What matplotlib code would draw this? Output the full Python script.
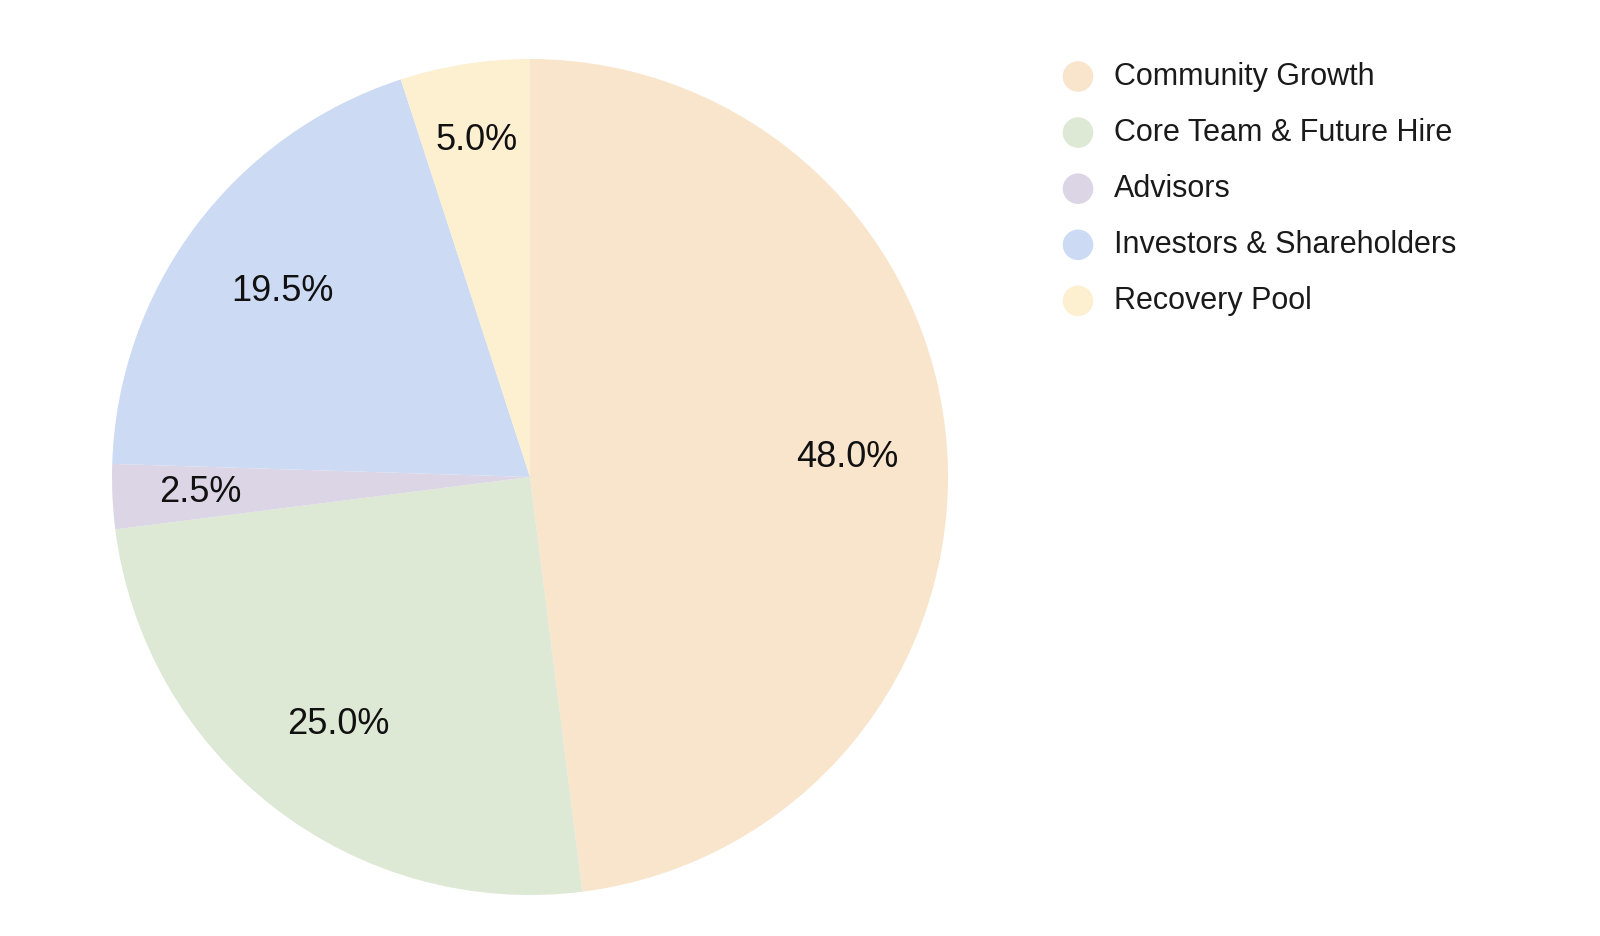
import numpy as np
import matplotlib.pyplot as plt

plt.rcParams['font.family'] = ['Liberation Sans', 'DejaVu Sans']

# 数据
labels = ['Community Growth', 'Core Team & Future Hire', 'Advisors',
          'Investors & Shareholders', 'Recovery Pool']
values = [48.0, 25.0, 2.5, 19.5, 5.0]
colors = ['#f8e5cc', '#dde8d5', '#dcd5e6', '#cddaf3', '#fdf0d0']
label_dist = [0.76, 0.75, 0.79, 0.74, 0.815]  # 百分比标签到圆心的距离

W, H = 1600, 936
fig = plt.figure(figsize=(W / 100, H / 100), dpi=100)

# 饼图 (圆心约在 530,477 px, 半径约 418 px)
cx, cy, r = 530, 477, 418
ax = fig.add_axes([(cx - r) / W, (H - cy - r) / H, 2 * r / W, 2 * r / H])
wedges, texts, autotexts = ax.pie(
    values, colors=colors, startangle=90, counterclock=False,
    autopct='%1.1f%%', pctdistance=0.76, radius=1,
    wedgeprops={'linewidth': 0},
    textprops={'fontsize': 26, 'color': '#111111'})
# 调整每个标签的位置
for w, t, d in zip(wedges, autotexts, label_dist):
    ang = np.deg2rad((w.theta1 + w.theta2) / 2)
    t.set_position((d * np.cos(ang), d * np.sin(ang)))
ax.set_xlim(-1, 1)
ax.set_ylim(-1, 1)
ax.set_aspect('equal')
ax.axis('off')

# 图例
lax = fig.add_axes([0, 0, 1, 1])
lax.set_xlim(0, W)
lax.set_ylim(H, 0)
lax.axis('off')
for i, (lab, c) in enumerate(zip(labels, colors)):
    y = 76.5 + i * 56.1
    lax.scatter([1078], [y], s=22 ** 2, color=c, edgecolors='none')
    lax.text(1114, y, lab, fontsize=22, va='center', ha='left', color='#1a1a1a')

fig.savefig('out.png', dpi=100)
